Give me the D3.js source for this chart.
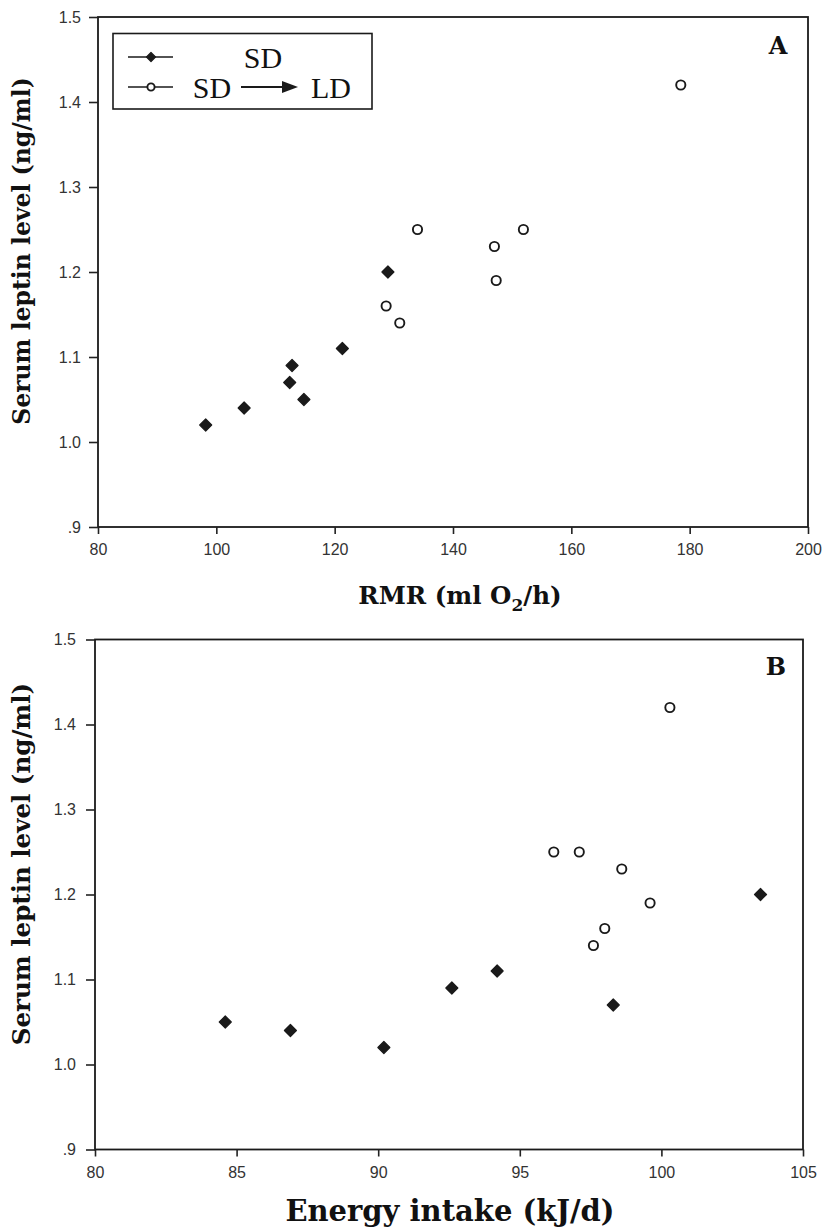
<!DOCTYPE html>
<html>
<head>
<meta charset="utf-8">
<script src="https://cdn.jsdelivr.net/npm/d3@7"></script>
<style>
  html, body { margin: 0; padding: 0; background: #fff; }
  svg { display: block; }
  .tick text { font-family: "Liberation Sans", Arial, sans-serif; font-size: 16px; fill: #333; }
  .tick line { stroke: #222; stroke-width: 1.6; }
  .title { font-family: "DejaVu Serif", serif; font-weight: bold; fill: #111; }
  .panel { font-family: "DejaVu Serif", serif; font-weight: bold; font-size: 24px; fill: #111; }
  .legend { font-family: "Liberation Serif", "Times New Roman", serif; font-size: 30px; fill: #111; }
</style>
</head>
<body>
<svg id="chart" width="822" height="1227"></svg>
<script>
// Serum leptin (ng/ml) against RMR (panel A) and energy intake (panel B)
const leptinTicks = [0.9, 1.0, 1.1, 1.2, 1.3, 1.4, 1.5];
const rmrTicks = [80, 100, 120, 140, 160, 180, 200];
const intakeTicks = [80, 85, 90, 95, 100, 105];

// Short-day group
const rmrSD = [98.2, 104.7, 112.4, 112.8, 114.8, 121.3, 129.0];
const leptinA_SD = [1.02, 1.04, 1.07, 1.09, 1.05, 1.11, 1.20];
// Short-day to long-day group
const rmrLD = [134.0, 151.9, 147.0, 147.3, 128.7, 131.0, 178.5];
const leptinA_LD = [1.25, 1.25, 1.23, 1.19, 1.16, 1.14, 1.42];

const intakeSD = [84.6, 86.9, 90.2, 92.6, 94.2, 98.3, 103.5];
const leptinB_SD = [1.05, 1.04, 1.02, 1.09, 1.11, 1.07, 1.20];
const intakeLD = [96.2, 97.1, 98.6, 99.6, 98.0, 97.6, 100.3];
const leptinB_LD = [1.25, 1.25, 1.23, 1.19, 1.16, 1.14, 1.42];

const svg = d3.select("#chart");
const fmtY = d => d3.format(".1f")(d).replace(/^0/, "");

const ink = "#1a1a1a";

function diamond(g, x, y, half) {
  g.append("path")
    .attr("d", `M${x},${y - half}L${x + half},${y}L${x},${y + half}L${x - half},${y}Z`)
    .attr("fill", ink).attr("stroke", ink).attr("stroke-width", 1.2)
    .attr("stroke-linejoin", "round");
}
function ring(g, x, y, r) {
  g.append("circle").attr("cx", x).attr("cy", y).attr("r", r)
    .attr("fill", "#fff").attr("stroke", ink).attr("stroke-width", 1.9);
}

function panel(opt) {
  const x = d3.scaleLinear().domain(opt.xDomain).range(opt.xRange);
  const y = d3.scaleLinear().domain([0.9, 1.5]).range(opt.yRange);
  const g = svg.append("g");

  // frame
  g.append("rect")
    .attr("x", opt.xRange[0]).attr("y", opt.yRange[1])
    .attr("width", opt.xRange[1] - opt.xRange[0])
    .attr("height", opt.yRange[0] - opt.yRange[1])
    .attr("fill", "none").attr("stroke", ink).attr("stroke-width", 1.8);

  const ax = g.append("g")
    .attr("transform", `translate(0,${opt.yRange[0]})`)
    .call(d3.axisBottom(x).tickValues(opt.xTicks).tickSize(7).tickPadding(10).tickFormat(d3.format("d")));
  ax.select(".domain").remove();

  const ay = g.append("g")
    .attr("transform", `translate(${opt.xRange[0]},0)`)
    .call(d3.axisLeft(y).tickValues(leptinTicks).tickSize(9).tickPadding(opt.yPad).tickFormat(fmtY));
  ay.select(".domain").remove();

  // points
  const pts = g.append("g");
  opt.sdX.forEach((v, i) => diamond(pts, x(v), y(opt.sdY[i]), 6));
  opt.ldX.forEach((v, i) => ring(pts, x(v), y(opt.ldY[i]), 4.6));

  // axis titles
  g.append("text").attr("class", "title")
    .attr("font-size", opt.yTitleSize + "px")
    .attr("transform", `translate(${opt.yTitle[0]},${opt.yTitle[1]}) rotate(-90)`)
    .attr("text-anchor", "middle")
    .text("Serum leptin level (ng/ml)");

  const xt = g.append("text").attr("class", "title")
    .attr("font-size", opt.xTitleSize + "px")
    .attr("x", opt.xTitle[0]).attr("y", opt.xTitle[1])
    .attr("text-anchor", "middle");
  opt.xLabel(xt);

  g.append("text").attr("class", "panel")
    .attr("x", opt.letterPos[0]).attr("y", opt.letterPos[1])
    .attr("text-anchor", "middle")
    .text(opt.letter);
  return g;
}

panel({
  xDomain: [80, 200], xRange: [98, 808], yRange: [527, 17], xTicks: rmrTicks,
  yPad: 8,
  sdX: rmrSD, sdY: leptinA_SD, ldX: rmrLD, ldY: leptinA_LD,
  yTitle: [30, 251], yTitleSize: 23.5, xTitleSize: 24.5,
  xTitle: [460, 604], letter: "A", letterPos: [778, 54],
  xLabel: t => {
    t.append("tspan").text("RMR (ml O");
    t.append("tspan").attr("font-size", "17px").attr("dy", 7).text("2");
    t.append("tspan").attr("dy", -7).text("/h)");
  }
});

panel({
  xDomain: [80, 105], xRange: [95, 803], yRange: [1149.5, 639.5], xTicks: intakeTicks,
  yPad: 10,
  sdX: intakeSD, sdY: leptinB_SD, ldX: intakeLD, ldY: leptinB_LD,
  yTitle: [30, 864], yTitleSize: 24.5, xTitleSize: 29,
  xTitle: [450, 1221], letter: "B", letterPos: [776, 675],
  xLabel: t => t.text("Energy intake (kJ/d)")
});

// legend for panel A
const lg = svg.append("g");
lg.append("rect").attr("x", 113).attr("y", 33.5).attr("width", 259).attr("height", 75.5)
  .attr("fill", "#fff").attr("stroke", ink).attr("stroke-width", 1.6);
lg.append("line").attr("x1", 128).attr("x2", 173).attr("y1", 57).attr("y2", 57)
  .attr("stroke", ink).attr("stroke-width", 1.6);
diamond(lg, 151, 57, 4.5);
lg.append("line").attr("x1", 128).attr("x2", 173).attr("y1", 87).attr("y2", 87)
  .attr("stroke", ink).attr("stroke-width", 1.6);
ring(lg, 151, 87, 3.6);
lg.append("text").attr("class", "legend").attr("x", 263).attr("y", 68).attr("text-anchor", "middle").text("SD");
lg.append("text").attr("class", "legend").attr("x", 212).attr("y", 98).attr("text-anchor", "middle").text("SD");
lg.append("text").attr("class", "legend").attr("x", 331).attr("y", 98).attr("text-anchor", "middle").text("LD");
lg.append("line").attr("x1", 241).attr("x2", 285).attr("y1", 87).attr("y2", 87)
  .attr("stroke", ink).attr("stroke-width", 1.8);
lg.append("path").attr("d", "M298,87L282,81L282,93Z").attr("fill", ink);
</script>
</body>
</html>
